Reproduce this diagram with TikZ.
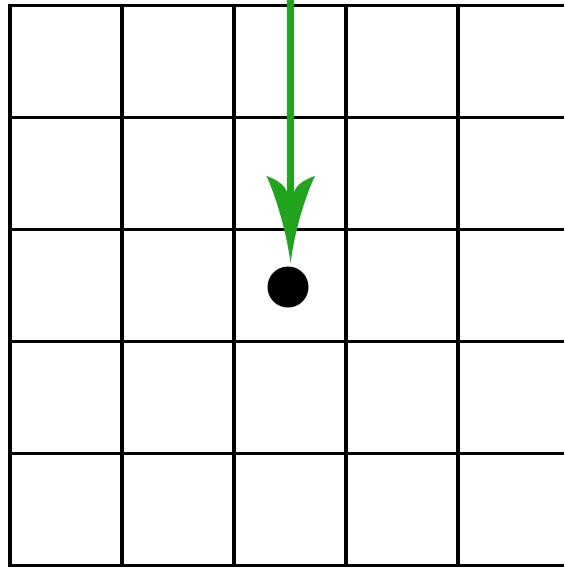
\documentclass[tikz,border=0pt]{standalone}
\definecolor{arrowgreen}{RGB}{34,163,30}
\begin{document}
\begin{tikzpicture}[x=1pt,y=-1pt,
  gridline/.style={line width=3.5pt,black},
  shaft/.style={line width=7pt,arrowgreen},
  headfill/.style={fill=arrowgreen,draw=none},
  dotstyle/.style={circle,fill=black,inner sep=0pt,minimum size=41pt}]
\useasboundingbox (0,0) rectangle (564,567);
\fill[white] (0,0) rectangle (564,567);
\foreach \x in {10,122,234,346,458} \draw[gridline] (\x,5.5) -- (\x,567);
\foreach \y in {5.5,117.5,229.5,341.5,453.5,565.5} \draw[gridline] (8.25,\y) -- (570,\y);
\node[dotstyle] (dot) at (288,287) {};
\coordinate (top) at (290.5,0);
\coordinate (tip) at (290.5,263);
\draw[shaft] (top) -- (top |- 0,198);
\path[headfill] (tip) .. controls (286,228) and (274,192) .. (266.5,176)
  .. controls (278,180) and (286,186) .. (287.5,194) -- (293.5,194)
  .. controls (295,186) and (303,180) .. (315,176)
  .. controls (307,192) and (295,228) .. (tip) -- cycle;
\end{tikzpicture}
\end{document}
